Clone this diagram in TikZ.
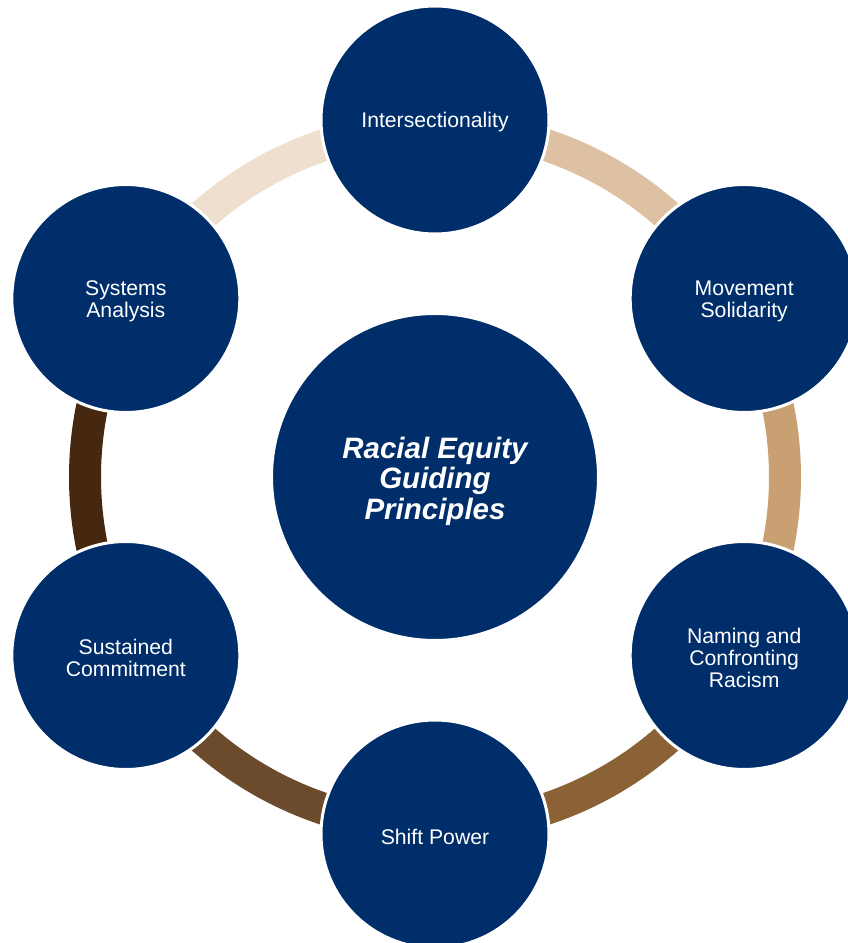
\documentclass[tikz,border=0pt]{standalone}
\usepackage{fontspec}
\setmainfont{Liberation Sans}
\usetikzlibrary{calc}
\definecolor{navy}{RGB}{0,46,106}
\definecolor{bandA}{RGB}{222,193,162}
\definecolor{bandB}{RGB}{201,160,114}
\definecolor{bandC}{RGB}{139,98,54}
\definecolor{bandD}{RGB}{107,75,43}
\definecolor{bandE}{RGB}{69,40,15}
\definecolor{bandF}{RGB}{238,223,207}
\begin{document}
\begin{tikzpicture}[x=1pt,y=1pt,
  outer/.style={circle,fill=navy,draw=white,line width=3pt,minimum size=228pt,inner sep=0pt},
  hub/.style={circle,fill=navy,draw=white,line width=3pt,minimum size=327pt,inner sep=0pt},
  otext/.style={text=white,align=center,inner sep=0pt,font=\fontsize{21.2}{22}\selectfont},
  htext/.style={text=white,align=center,inner sep=0pt,font=\fontsize{29.5}{30.5}\selectfont\bfseries\itshape},
  band/.style={line width=32pt}]
\useasboundingbox (0,0) rectangle (848,943);
\coordinate (C) at (435,466);
% ring bands
\draw[band,bandA] (C) ++(47:350) arc[start angle=47,end angle=73,radius=350];
\draw[band,bandB] (C) ++(-13:350) arc[start angle=-13,end angle=13,radius=350];
\draw[band,bandC] (C) ++(-73:350) arc[start angle=-73,end angle=-47,radius=350];
\draw[band,bandD] (C) ++(-133:350) arc[start angle=-133,end angle=-107,radius=350];
\draw[band,bandE] (C) ++(167:350) arc[start angle=167,end angle=193,radius=350];
\draw[band,bandF] (C) ++(107:350) arc[start angle=107,end angle=133,radius=350];
% circles
\node[hub] (hub) at (C) {};
\node[outer] (n1) at ($(C)+(90:357)$) {};
\node[outer] (n2) at ($(C)+(30:357)$) {};
\node[outer] (n3) at ($(C)+(-30:357)$) {};
\node[outer] (n4) at ($(C)+(-90:357)$) {};
\node[outer] (n5) at ($(C)+(-150:357)$) {};
\node[outer] (n6) at ($(C)+(150:357)$) {};
% texts
\node[htext] (th) at ($(hub)+(0,-4)$) {Racial Equity\\Guiding\\Principles};
\node[otext] (t1) at ($(n1)+(0,-2.5)$) {Intersectionality};
\node[otext] (t2) at ($(n2)+(0,-2.5)$) {Movement\\Solidarity};
\node[otext] (t3) at ($(n3)+(0,-2.5)$) {Naming and\\Confronting\\Racism};
\node[otext] (t4) at ($(n4)+(0,-2.5)$) {Shift Power};
\node[otext] (t5) at ($(n5)+(0,-2.5)$) {Sustained\\Commitment};
\node[otext] (t6) at ($(n6)+(0,-2.5)$) {Systems\\Analysis};
\end{tikzpicture}
\end{document}
